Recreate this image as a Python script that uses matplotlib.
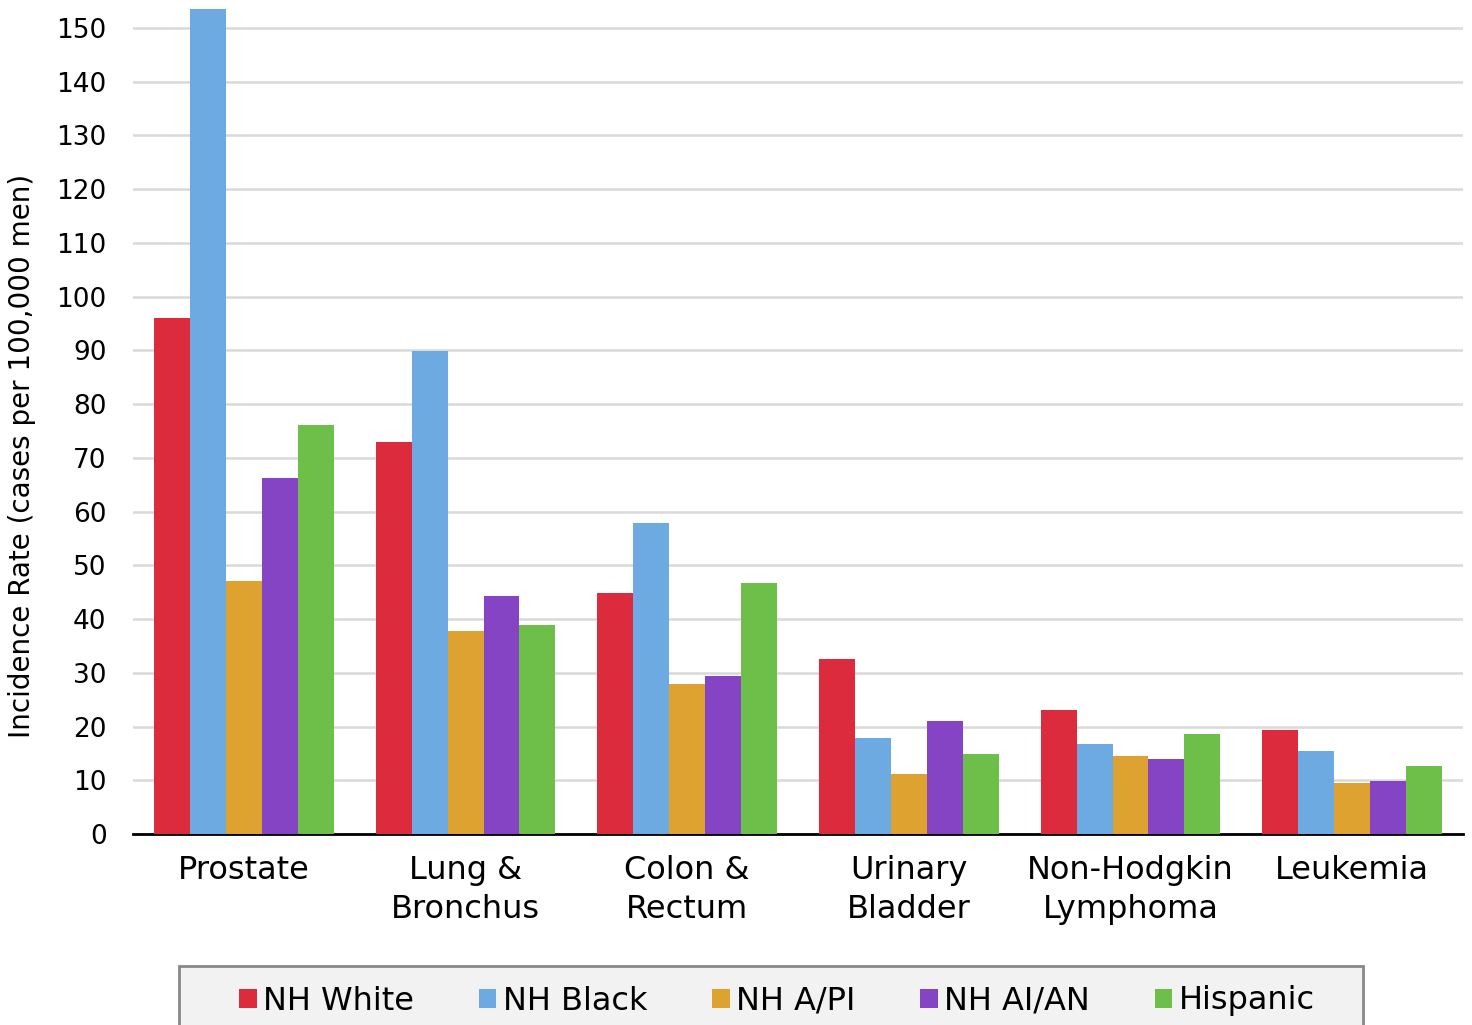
import matplotlib.pyplot as plt
import numpy as np
from matplotlib.patches import Patch, Rectangle

plt.rcParams['font.family'] = ['DejaVu Sans']

categories = ['Prostate', 'Lung &\nBronchus', 'Colon &\nRectum', 'Urinary\nBladder',
              'Non-Hodgkin\nLymphoma', 'Leukemia']
groups = ['NH White', 'NH Black', 'NH A/PI', 'NH AI/AN', 'Hispanic']
colors = ['#dc2b3c', '#6eaae2', '#dea230', '#8444c4', '#6ebe4a']

nh_white = [96.0, 73.0, 44.9, 32.6, 23.1, 19.4]
nh_black = [153.6, 89.9, 57.9, 17.9, 16.8, 15.4]
nh_api = [47.1, 37.8, 27.9, 11.2, 14.5, 9.5]
nh_aian = [66.3, 44.3, 29.4, 21.0, 14.0, 9.9]
hispanic = [76.1, 38.9, 46.7, 14.9, 18.6, 12.7]
series = [nh_white, nh_black, nh_api, nh_aian, hispanic]

fig = plt.figure(figsize=(14.72, 10.25), dpi=100)
ax = fig.add_axes([0.0904, 0.1863, 0.9035, 0.8137])

x = np.arange(len(categories))
w = 0.162
for i, (vals, c) in enumerate(zip(series, colors)):
    ax.bar(x + (i - 2) * w, vals, width=w, color=c, zorder=3, linewidth=0)

ax.set_xlim(-0.5, 5.5)
ax.set_ylim(0, 155.2)
ax.set_yticks(range(0, 151, 10))
ax.yaxis.grid(True, color='#d9d9d9', linewidth=1.8, zorder=0)
ax.set_axisbelow(True)
for s in ['top', 'right', 'left']:
    ax.spines[s].set_visible(False)
ax.spines['bottom'].set_linewidth(2)
ax.spines['bottom'].set_color('black')
ax.tick_params(axis='both', length=0)
ax.tick_params(axis='y', labelsize=19, pad=19)
ax.set_xticks(x)
ax.set_xticklabels(categories, fontsize=23, linespacing=1.35)
ax.tick_params(axis='x', pad=15)
ax.set_ylabel('Incidence Rate (cases per 100,000 men)', fontsize=20)
ax.yaxis.set_label_coords(-0.073, 0.453)

# legend box, cut by the bottom edge
fig.patches.append(Rectangle((179 / 1472, -0.02), (1363 - 179) / 1472, 0.0776,
                             transform=fig.transFigure, facecolor='#f2f2f2',
                             edgecolor='#888888', linewidth=2, zorder=0))
handles = [Patch(facecolor=c, edgecolor='none') for c in colors]
fig.legend(handles, groups, loc='center', bbox_to_anchor=(777 / 1472, 1 - 1001 / 1025),
           ncol=5, fontsize=23, frameon=False, borderaxespad=0,
           handlelength=0.55, handleheight=0.55, handletextpad=0.2,
           columnspacing=2.03)

fig.savefig('out.png', dpi=100)
